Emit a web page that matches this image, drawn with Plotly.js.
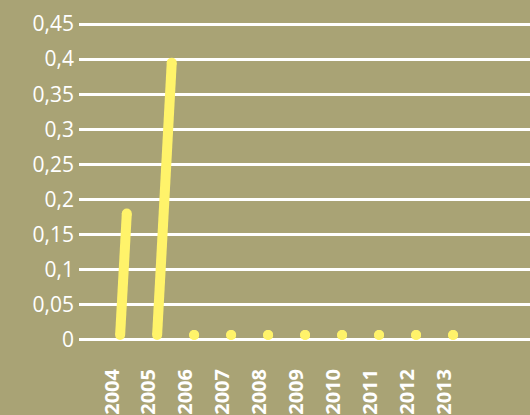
<!DOCTYPE html>
<html>
<head>
<meta charset="utf-8">
<script src="https://cdn.plot.ly/plotly-3.0.1.min.js"></script>
<style>html,body{margin:0;padding:0;background:#a9a375;}#chart{width:530px;height:415px;}</style>
</head>
<body>
<div id="chart"></div>
<script>
var years = ['2004','2005','2006','2007','2008','2009','2010','2011','2012','2013'];
var values = [0.18, 0.395, 0, 0, 0, 0, 0, 0, 0, 0];
var yTickVals = [0, 0.05, 0.1, 0.15, 0.2, 0.25, 0.3, 0.35, 0.4, 0.45];
var yTickText = ['0','0,05','0,1','0,15','0,2','0,25','0,3','0,35','0,4','0,45'];

var BG = '#a9a375';
var YELLOW = '#fff36a';
var offset = 0.22;   // horizontal shift of each stroke from its category
var slant = 1.0;     // horizontal lean per unit of value
var capR = 0.007;    // cap radius in value units

var xs = [], ys = [];
values.forEach(function(v, i) {
  var x0 = i + offset;
  xs.push(x0, x0 + v * slant, null);
  ys.push(capR, Math.max(v, capR), null);
});

var trace = {
  x: xs, y: ys, type: 'scatter', mode: 'lines+markers',
  connectgaps: false,
  line: {color: YELLOW, width: 10},
  marker: {color: YELLOW, size: 10},
  hoverinfo: 'skip', showlegend: false
};

var layout = {
  width: 530, height: 415,
  paper_bgcolor: BG, plot_bgcolor: BG,
  margin: {l: 79, r: 0, t: 17, b: 68},
  font: {family: 'Open Sans', color: '#ffffff'},
  xaxis: {
    range: [-0.892, 11.3],
    tickvals: years.map(function(_, i){ return i; }),
    ticktext: years,
    tickangle: -90,
    showgrid: false, zeroline: false, showline: false, ticks: '',
    tickfont: {size: 20, color: '#ffffff', weight: 'bold', family: 'Open Sans'},
    ticklabelstandoff: 17
  },
  yaxis: {
    range: [-0.01, 0.46],
    tickvals: yTickVals, ticktext: yTickText,
    showgrid: true, gridcolor: '#ffffff', gridwidth: 3,
    zeroline: false, showline: false, ticks: '',
    tickfont: {size: 21, color: '#ffffff', family: 'Open Sans'},
    ticklabelstandoff: 4
  }
};

Plotly.newPlot('chart', [trace], layout, {displayModeBar: false, staticPlot: true});
</script>
</body>
</html>
